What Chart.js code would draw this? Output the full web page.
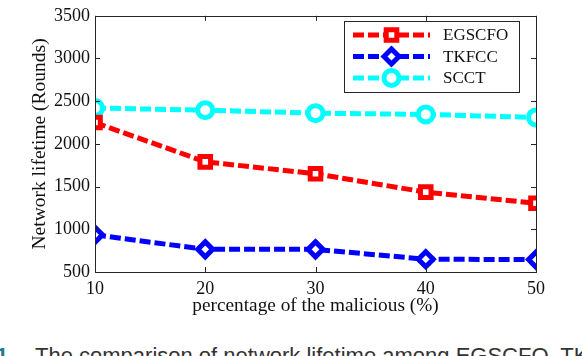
<!DOCTYPE html>
<html>
<head>
<meta charset="utf-8">
<script src="https://cdn.jsdelivr.net/npm/chart.js@4/dist/chart.umd.min.js"></script>
<style>
  html, body { margin: 0; padding: 0; background: #fff; }
  body { width: 582px; height: 356px; overflow: hidden; position: relative; }
  #wrap { position: absolute; left: 0; top: 0; width: 582px; height: 330px; }
  #cap { position: absolute; left: 35px; top: 345px; white-space: nowrap; font-family: "Liberation Sans", Arial, sans-serif; font-size: 22px; line-height: 22px; color: #333; }
  #fig { position: absolute; left: -4px; top: 345px; font-family: "Liberation Sans", Arial, sans-serif; font-size: 22px; line-height: 22px; color: #1f7f8c; font-weight: bold; }
</style>
</head>
<body>
<div id="wrap"><canvas id="c"></canvas></div>
<div id="fig">1</div>
<div id="cap">The comparison of network lifetime among EGSCFO, TKFCC and SCCT</div>
<script>
const xValues = [10, 20, 30, 40, 50];
const seriesNames = ["EGSCFO", "TKFCC", "SCCT"];
const egscfo = [2250, 1790, 1650, 1435, 1305];
const tkfcc = [935, 765, 765, 650, 645];
const scct = [2420, 2395, 2360, 2345, 2310];
const yTicks = [500, 1000, 1500, 2000, 2500, 3000, 3500];
const xTicks = [10, 20, 30, 40, 50];
const xTitle = "percentage of the malicious (%)";
const yTitle = "Network lifetime (Rounds)";

const SERIF = '"Liberation Serif", "Times New Roman", serif';
const AXIS = '#262626';

function pts(arr) { return xValues.map((x, i) => ({x: x, y: arr[i]})); }

function ds(label, data, color, style) {
  return {
    label: label, data: pts(data),
    borderColor: color, backgroundColor: color,
    borderWidth: 5, borderDash: [11, 4],
    pointStyle: style, pointRadius: 7.5, pointHoverRadius: 7.5,
    pointBorderWidth: 5, pointBorderColor: color, pointBackgroundColor: '#ffffff',
    tension: 0, fill: false
  };
}

const frame = {
  id: 'frame',
  afterDraw(chart) {
    const ctx = chart.ctx;
    const a = chart.chartArea;
    const xs = chart.scales.x, ys = chart.scales.y;
    ctx.save();
    ctx.strokeStyle = AXIS;
    ctx.lineWidth = 1;
    ctx.strokeRect(Math.round(a.left) + 0.5, Math.round(a.top) + 0.5, Math.round(a.right - a.left), Math.round(a.bottom - a.top));
    const tl = 5;
    ctx.beginPath();
    xTicks.forEach(v => {
      const px = Math.round(xs.getPixelForValue(v)) + 0.5;
      ctx.moveTo(px, a.bottom); ctx.lineTo(px, a.bottom - tl);
      ctx.moveTo(px, a.top); ctx.lineTo(px, a.top + tl);
    });
    yTicks.forEach(v => {
      const py = Math.round(ys.getPixelForValue(v)) + 0.5;
      ctx.moveTo(a.left, py); ctx.lineTo(a.left + tl, py);
      ctx.moveTo(a.right, py); ctx.lineTo(a.right - tl, py);
    });
    ctx.stroke();

    // legend box
    const bx = 344, by = 21, bw = 175, bh = 71;
    ctx.fillStyle = '#fff';
    ctx.fillRect(bx, by, bw, bh);
    ctx.strokeStyle = AXIS;
    ctx.strokeRect(bx + 0.5, by + 0.5, bw, bh);
    const rows = [35, 56.5, 78];
    chart.data.datasets.forEach((d, i) => {
      const y = rows[i];
      ctx.save();
      ctx.strokeStyle = d.borderColor;
      ctx.lineWidth = d.borderWidth;
      ctx.setLineDash(d.borderDash);
      ctx.beginPath();
      ctx.moveTo(353, y); ctx.lineTo(430, y);
      ctx.stroke();
      ctx.setLineDash([]);
      ctx.lineWidth = d.pointBorderWidth;
      ctx.fillStyle = d.pointBackgroundColor;
      Chart.helpers.drawPoint(ctx, {pointStyle: d.pointStyle, radius: d.pointRadius, borderWidth: d.pointBorderWidth, rotation: 0}, 391.5, y);
      ctx.restore();
      ctx.fillStyle = '#111';
      ctx.font = '17px ' + SERIF;
      ctx.textBaseline = 'middle';
      ctx.textAlign = 'left';
      ctx.fillText(d.label, 443, y + 1);
    });
    ctx.restore();
  }
};

new Chart(document.getElementById('c'), {
  type: 'line',
  data: {
    datasets: [
      ds(seriesNames[0], egscfo, '#ff0000', 'rect'),
      ds(seriesNames[1], tkfcc, '#0000ff', 'rectRot'),
      ds(seriesNames[2], scct, '#00ffff', 'circle')
    ]
  },
  options: {
    responsive: true, maintainAspectRatio: false, animation: false,
    events: [],
    layout: { padding: { left: 0, right: 46, top: 6, bottom: 0 } },
    plugins: { legend: { display: false }, tooltip: { enabled: false } },
    scales: {
      x: {
        type: 'linear', min: 10, max: 50,
        afterFit(s) { s.height = 58; },
        afterBuildTicks(s) { s.ticks = xTicks.map(v => ({value: v})); },
        grid: { display: false, drawTicks: false },
        border: { display: false },
        ticks: { padding: 6, color: '#111', font: { family: SERIF, size: 18 }, maxRotation: 0, callback: v => String(v) },
        title: { display: true, text: xTitle, color: '#111', font: { family: SERIF, size: 19.3 }, padding: { top: 0, bottom: 12 } }
      },
      y: {
        type: 'linear', min: 500, max: 3500,
        afterFit(s) { s.width = 95; },
        afterBuildTicks(s) { s.ticks = yTicks.map(v => ({value: v})); },
        grid: { display: false, drawTicks: false },
        border: { display: false },
        ticks: { padding: 5, color: '#111', font: { family: SERIF, size: 18 }, callback: v => String(v) },
        title: { display: true, text: yTitle, color: '#111', font: { family: SERIF, size: 19.5 }, padding: { top: 27.8, bottom: 0 } }
      }
    }
  },
  plugins: [frame]
});
</script>
</body>
</html>
